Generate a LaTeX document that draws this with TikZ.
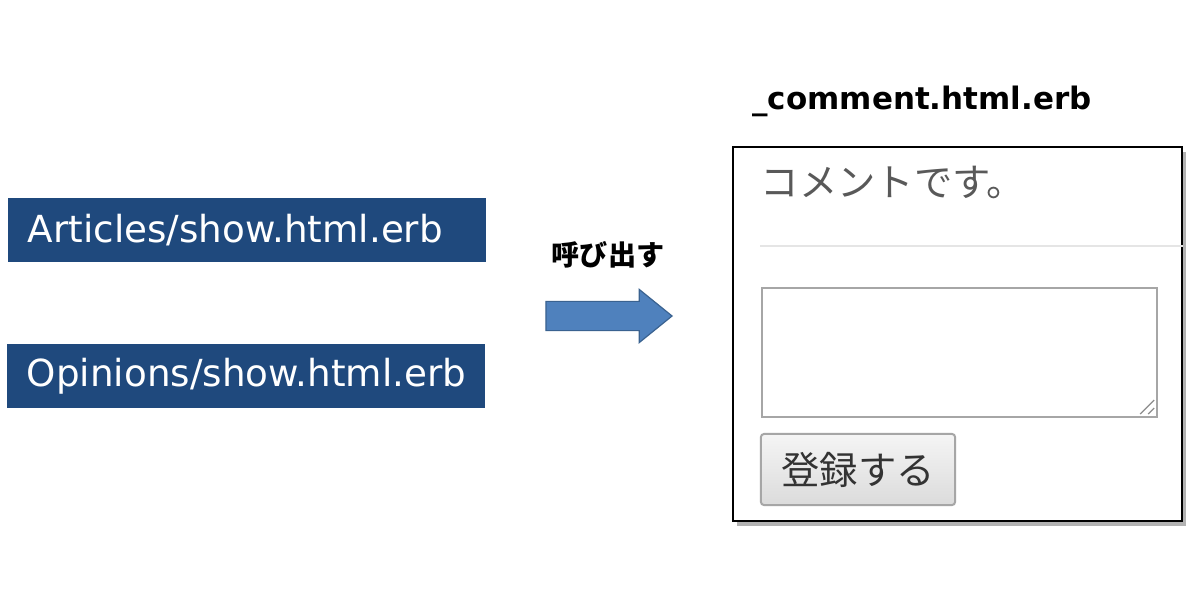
\documentclass[tikz,border=0pt]{standalone}
\usepackage{fontspec}
\setsansfont{DejaVu Sans}
\newfontfamily\jpfont{Noto Sans CJK JP}
\usetikzlibrary{shapes.arrows, shadows, positioning}
\definecolor{filenavy}{HTML}{1F497D}
\definecolor{arrowblue}{HTML}{4F81BD}
\definecolor{arrowedge}{HTML}{3A6290}

\begin{document}
\begin{tikzpicture}[x=0.01cm, y=-0.01cm, filebox/.style={fill=filenavy, draw=none, text=white, font=\sffamily\fontsize{10.6}{12}\selectfont, text width=4.38cm, align=left, inner xsep=0.2cm, inner ysep=0pt, minimum height=0.63cm}, title/.style={font=\sffamily\bfseries\fontsize{8.8}{10}\selectfont, inner sep=0pt}, calltext/.style={font=\jpfont\bfseries\fontsize{8}{9}\selectfont, inner sep=0pt}, callarrow/.style={single arrow, fill=arrowblue, draw=arrowedge, line width=0.012cm, inner sep=0pt, text height=0.28cm, text depth=0pt, minimum height=1.26cm, minimum width=0.52cm, single arrow head extend=0.12cm, single arrow tip angle=78}, panel/.style={draw=black, line width=0.02cm, fill=white, drop shadow={shadow xshift=0.04cm, shadow yshift=-0.05cm, fill=black, opacity=0.3}, inner sep=0pt}, jptext/.style={font=\jpfont\fontsize{10.9}{12}\selectfont, text=black!65, inner sep=0pt}, textarea/.style={draw=black!35, line width=0.02cm, fill=white, inner sep=0pt}, button/.style={draw=black!35, line width=0.02cm, rounded corners=0.03cm, top color=black!4, bottom color=black!14, font=\jpfont\fontsize{10.9}{12}\selectfont, text=black!80, inner sep=0pt}, rule/.style={draw=black!10, line width=0.02cm}, grip/.style={draw=black!45, line width=0.012cm}]
    \useasboundingbox (0,0) rectangle (1200,600);

    %Nodes
    \node[filebox](articles) at (247,230){Articles/show.html.erb};
    \node[filebox](opinions) at (246,376){Opinions/show.html.erb};

    \node[calltext](call) at (608,255){呼び出す};
    \node[callarrow](callarrow) at (600,316){};

    \node[title](partial) at (922,101){\_comment.html.erb};
    \node[panel, minimum width=4.49cm, minimum height=3.74cm](panel) at (957.5,334){};
    \node[jptext, anchor=west](message) at (760,182){コメントです。};
    \coordinate (ruleleft) at (760,246);
    \node[textarea, minimum width=3.95cm, minimum height=1.29cm](textarea) at (959.5,352.5){};
    \node[button, minimum width=1.94cm, minimum height=0.71cm](submit) at (858,469.5){登録する};

    %Lines
    \draw[rule] (ruleleft) -- (ruleleft -| panel.east);
    \draw[grip] ([xshift=-0.18cm, yshift=0.04cm]textarea.south east) -- ([xshift=-0.04cm, yshift=0.18cm]textarea.south east);
    \draw[grip] ([xshift=-0.10cm, yshift=0.04cm]textarea.south east) -- ([xshift=-0.04cm, yshift=0.10cm]textarea.south east);

\end{tikzpicture}
\end{document}
